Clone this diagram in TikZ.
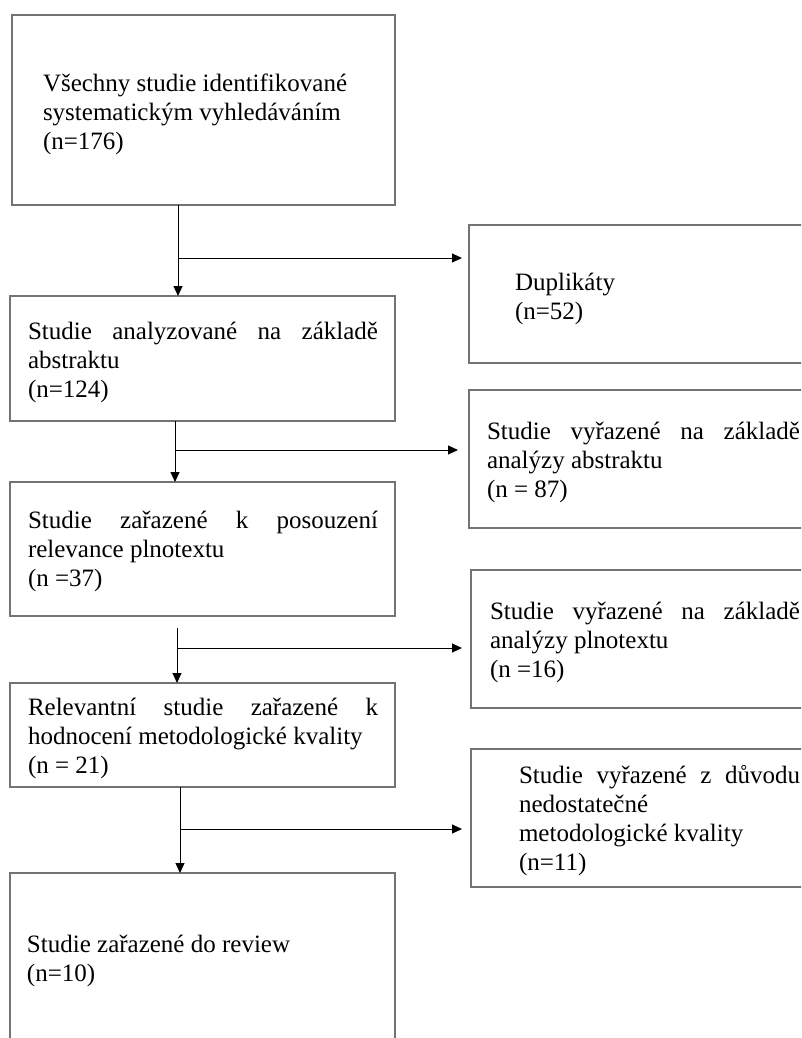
\documentclass[tikz,border=0pt]{standalone}
\usepackage{fontspec}
\setmainfont{Liberation Serif}
\usetikzlibrary{arrows.meta}
\tikzset{
  box/.style={draw=black!55, line width=1.5pt, inner sep=0pt, outer sep=0pt, anchor=north west},
  txt/.style={anchor=base west, inner sep=0pt, outer sep=0pt, align=left, text width=360pt,
              font=\fontsize{25pt}{29pt}\selectfont,
              execute at begin node={\spaceskip=0pt\xspaceskip=0pt\relax}},
  arr/.style={draw=black, line width=1pt, -{Triangle[length=10pt,width=9pt]}},
}
\newcommand{\jline}[2]{\makebox[#1][s]{\spaceskip=.25em plus 1fil\relax #2}}
\begin{document}
\begin{tikzpicture}[x=1pt,y=-1pt]
\useasboundingbox (0,0) rectangle (801,1038);
\clip (0,0) rectangle (801,1038);
% left column boxes
\node[box, minimum width=383pt, minimum height=190pt] (b1) at (12,15) {};
\node[box, minimum width=385pt, minimum height=125pt] (b2) at (10,296) {};
\node[box, minimum width=385pt, minimum height=134pt] (b3) at (10,482) {};
\node[box, minimum width=385pt, minimum height=104pt] (b4) at (10,683) {};
\node[box, minimum width=385pt, minimum height=190pt] (b5) at (10,873) {};
% right column boxes
\node[box, minimum width=370pt, minimum height=138pt] (r1) at (469,225) {};
\node[box, minimum width=370pt, minimum height=138pt] (r2) at (469,390) {};
\node[box, minimum width=370pt, minimum height=138pt] (r3) at (471,570) {};
\node[box, minimum width=370pt, minimum height=138pt] (r4) at (471,749) {};
% texts
\node[txt] (t1) at (43,92) {Všechny studie identifikované\\systematickým vyhledáváním\\(n=176)};
\node[txt] (t2) at (28,339) {\jline{350pt}{Studie analyzované na základě}\\abstraktu\\(n=124)};
\node[txt] (t3) at (28,528) {\jline{350pt}{Studie zařazené k posouzení}\\relevance plnotextu\\(n =37)};
\node[txt] (t4) at (28,715) {\jline{350pt}{Relevantní studie zařazené k}\\hodnocení metodologické kvality\\(n = 21)};
\node[txt] (t5) at (27,952) {Studie zařazené do review\\(n=10)};
\node[txt] (u1) at (515,290) {Duplikáty\\(n=52)};
\node[txt] (u2) at (487,439) {\jline{313pt}{Studie vyřazené na základě}\\analýzy abstraktu\\(n = 87)};
\node[txt] (u3) at (490,619) {\jline{310pt}{Studie vyřazené na základě}\\analýzy plnotextu\\(n =16)};
\node[txt] (u4) at (519,783) {\jline{281pt}{Studie vyřazené z důvodu}\\nedostatečné\\metodologické kvality\\(n=11)};
% connector anchor coordinates
\coordinate (v1) at (178,0);
\coordinate (v2) at (175,0);
\coordinate (s3) at (177,628);
\coordinate (v4) at (180,0);
\coordinate (h1) at (179,258);
\coordinate (h2) at (176,450);
\coordinate (h3) at (178,648);
\coordinate (h4) at (181,829);
% vertical arrows
\draw[arr] (b1.south -| v1) -- (b2.north -| v1);
\draw[arr] (b2.south -| v2) -- (b3.north -| v2);
\draw[arr] (s3) -- (s3 |- b4.north);
\draw[arr] (b4.south -| v4) -- (b5.north -| v4);
% horizontal arrows
\draw[arr, shorten >=7pt] (h1) -- (h1 -| r1.west);
\draw[arr, shorten >=11pt] (h2) -- (h2 -| r2.west);
\draw[arr, shorten >=9pt] (h3) -- (h3 -| r3.west);
\draw[arr, shorten >=9pt] (h4) -- (h4 -| r4.west);
\end{tikzpicture}
\end{document}
